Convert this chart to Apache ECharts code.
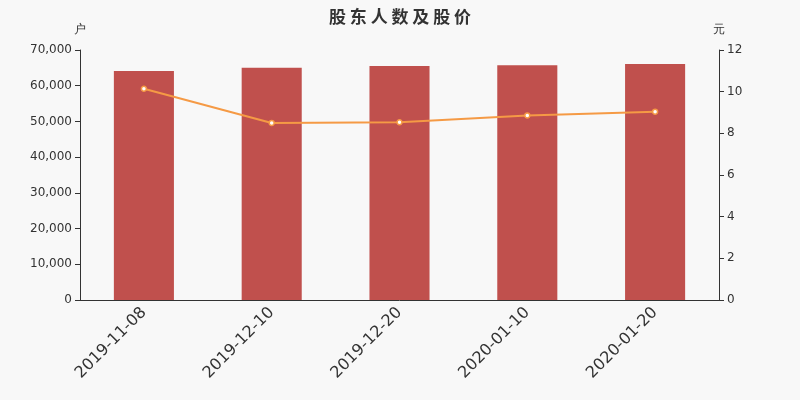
<!DOCTYPE html>
<html>
<head>
<meta charset="utf-8">
<script src="https://cdn.jsdelivr.net/npm/echarts@6/dist/echarts.min.js"></script>
<style>
  html, body { margin: 0; padding: 0; background: #f8f8f8; }
  #main { width: 800px; height: 400px; }
</style>
</head>
<body>
<div id="main"></div>
<script>
var dates = ['2019-11-08', '2019-12-10', '2019-12-20', '2020-01-10', '2020-01-20'];
var holders = [64100, 65000, 65550, 65700, 66050];
var prices = [10.14, 8.50, 8.53, 8.86, 9.04];

function initChart() {
  var chartDom = document.getElementById('main');
  var myChart = echarts.init(chartDom);
  var option = {
    backgroundColor: '#f8f8f8',
    textStyle: { fontFamily: 'DejaVu Sans' },
    title: {
      text: '股 东 人 数 及 股 价',
      left: 'center',
      top: 3,
      textStyle: {
        fontSize: 17,
        fontWeight: 'bold',
        color: '#333',
        fontFamily: 'Noto Sans CJK SC'
      }
    },
    grid: { left: 80, right: 81, top: 50, bottom: 100 },
    xAxis: {
      type: 'category',
      data: dates,
      axisLine: { lineStyle: { color: '#333' } },
      axisTick: { lineStyle: { color: '#333' } },
      axisLabel: {
        rotate: 45,
        fontSize: 16,
        color: '#333',
        margin: 10
      }
    },
    yAxis: [
      {
        type: 'value',
        name: '户',
        nameGap: 14,
        min: 0,
        max: 70000,
        interval: 10000,
        nameTextStyle: { color: '#333', fontSize: 12 },
        axisLine: { show: true, lineStyle: { color: '#333' } },
        axisTick: { show: true },
        splitLine: { show: false },
        axisLabel: {
          color: '#333',
          fontSize: 12,
          formatter: function (v) { return v.toLocaleString('en-US'); }
        }
      },
      {
        type: 'value',
        name: '元',
        nameGap: 14,
        min: 0,
        max: 12,
        interval: 2,
        nameTextStyle: { color: '#333', fontSize: 12 },
        axisLine: { show: true, lineStyle: { color: '#333' } },
        axisTick: { show: true },
        splitLine: { show: false },
        axisLabel: { color: '#333', fontSize: 12 }
      }
    ],
    series: [
      {
        name: '股东人数',
        type: 'bar',
        data: holders,
        barWidth: '47%',
        itemStyle: { color: '#c0504d' }
      },
      {
        name: '股价',
        type: 'line',
        yAxisIndex: 1,
        data: prices,
        symbol: 'circle',
        symbolSize: 5,
        itemStyle: { color: '#fff', borderColor: '#f59a45', borderWidth: 1.5 },
        lineStyle: { color: '#f59a45', width: 2 }
      }
    ]
  };
  option && myChart.setOption(option);
}

document.addEventListener('DOMContentLoaded', () => {
  initChart()
});
</script>
</body>
</html>
